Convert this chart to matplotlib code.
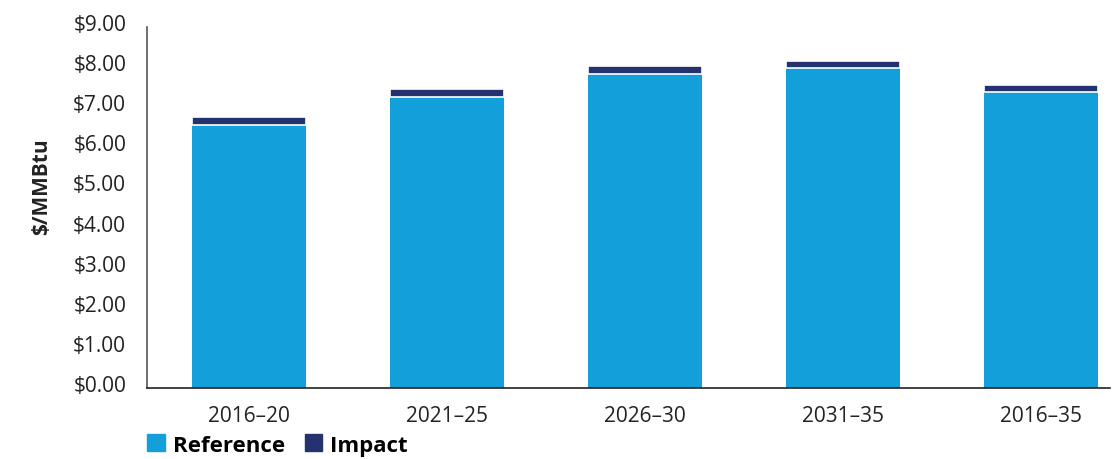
import matplotlib
matplotlib.use("Agg")
import matplotlib.pyplot as plt
import matplotlib.transforms as mtransforms
from matplotlib.patches import Patch

periods = ["2016\u201320", "2021\u201325", "2026\u201330", "2031\u201335", "2016\u201335"]
reference = [6.56, 7.26, 7.84, 7.97, 7.37]
impact = [0.19, 0.19, 0.19, 0.18, 0.19]
yticks = [0, 1, 2, 3, 4, 5, 6, 7, 8, 9]

ref_color = "#129fda"
imp_color = "#24326f"

plt.rcParams["font.family"] = ["Open Sans", "DejaVu Sans"]

fig = plt.figure(figsize=(11.14, 4.6), dpi=100)
ax = fig.add_axes([147 / 1114, 71 / 460, 963 / 1114, 361 / 460])

x = list(range(len(periods)))
ax.bar(x, reference, width=0.576, color=ref_color, linewidth=0)
ax.bar(x, impact, width=0.576, bottom=reference, color=imp_color,
       edgecolor="white", linewidth=1.2)

ax.set_xlim(-0.515, 4.35)
ax.set_ylim(0, 9)
ax.set_yticks(yticks)
ax.set_yticklabels(["${:.2f}".format(v) for v in yticks])
ax.set_xticks(x)
ax.set_xticklabels(periods)
ax.tick_params(axis="both", length=0, labelsize=15, colors="#222222")
ax.tick_params(axis="y", pad=15)
ax.tick_params(axis="x", pad=12)

# nudge the y labels up a little
shift = mtransforms.ScaledTranslation(0, 5 / 100, fig.dpi_scale_trans)
for lab in ax.get_yticklabels():
    lab.set_transform(lab.get_transform() + shift)

for side in ["top", "right"]:
    ax.spines[side].set_visible(False)
ax.spines["left"].set_color("#555555")
ax.spines["bottom"].set_color("#222222")
ax.spines["left"].set_linewidth(1.2)
ax.spines["bottom"].set_linewidth(1.2)

fig.text(42 / 1114, 1 - 187 / 460, "$/MMBtu", rotation=90, ha="center",
         va="center", fontsize=15, fontweight="bold", color="#222222")

handles = [Patch(color=ref_color, label="Reference"),
           Patch(color=imp_color, label="Impact")]
fig.legend(handles=handles, loc="center left", bbox_to_anchor=(147 / 1114, 1 - 446 / 460),
           ncol=2, frameon=False, handlelength=0.8, handleheight=0.8,
           handletextpad=0.35, columnspacing=0.9, borderpad=0, borderaxespad=0,
           prop={"size": 16, "weight": "bold"})

fig.savefig("out.png", dpi=100)
